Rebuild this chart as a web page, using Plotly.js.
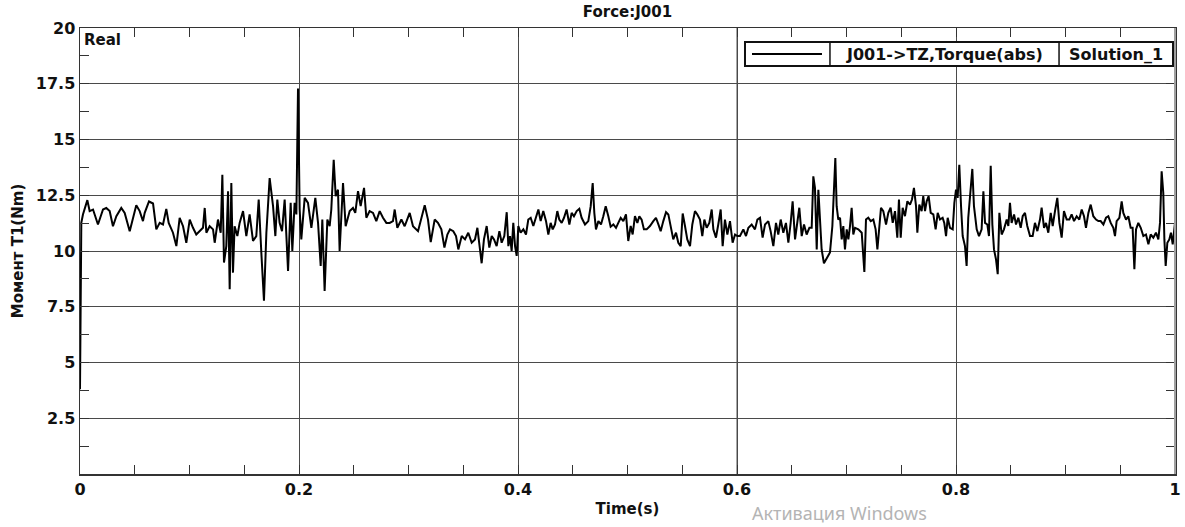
<!DOCTYPE html>
<html>
<head>
<meta charset="utf-8">
<script src="https://cdn.plot.ly/plotly-3.0.1.min.js"></script>
<style>
  html, body { margin: 0; padding: 0; background: #ffffff; }
  #chart { width: 1185px; height: 527px; }
</style>
</head>
<body>
<div id="chart"></div>
<script>
// ---- data ----
const chartTitle = "Force:J001";
const xTitle = "Time(s)";
const yTitle = "Момент T1(Nm)";
const seriesName = "J001->TZ,Torque(abs)";
const solutionName = "Solution_1";
const cornerLabel = "Real";
const watermark = "Активация Windows";

const xTickVals = [0, 0.2, 0.4, 0.6, 0.8, 1];
const xTickText = ["0", "0.2", "0.4", "0.6", "0.8", "1"];
const yTickVals = [2.5, 5, 7.5, 10, 12.5, 15, 17.5, 20];
const yTickText = ["2.5", "5", "7.5", "10", "12.5", "15", "17.5", "20"];

const time = [
  0, 0.0004, 0.0012, 0.0027, 0.0067, 0.0088, 0.0119, 0.0164, 0.0210, 0.0240,
  0.0271, 0.0301, 0.0332, 0.0377, 0.0408, 0.0454, 0.0514, 0.0545, 0.0575, 0.0591,
  0.0630, 0.0667, 0.0697, 0.0728, 0.0758, 0.0788, 0.0810, 0.0849, 0.0880, 0.0910,
  0.0941, 0.0971, 0.1002, 0.1032, 0.1062, 0.1123, 0.1139, 0.1154, 0.1184, 0.1215,
  0.1230, 0.1260, 0.1285, 0.1300, 0.1315, 0.1336, 0.1352, 0.1367, 0.1382, 0.1397,
  0.1412, 0.1437, 0.1458, 0.1489, 0.1519, 0.1549, 0.1580, 0.1610, 0.1632, 0.1656,
  0.1680, 0.1702, 0.1732, 0.1763, 0.1784, 0.1802, 0.1823, 0.1845, 0.1869, 0.1900,
  0.1924, 0.1939, 0.1960, 0.1976, 0.1991, 0.2006, 0.2021, 0.2052, 0.2082, 0.2113,
  0.2149, 0.2174, 0.2198, 0.2213, 0.2234, 0.2259, 0.2280, 0.2295, 0.2317, 0.2335,
  0.2356, 0.2371, 0.2402, 0.2426, 0.2463, 0.2493, 0.2514, 0.2539, 0.2563, 0.2594,
  0.2615, 0.2645, 0.2676, 0.2706, 0.2737, 0.2767, 0.2798, 0.2828, 0.2858, 0.2874,
  0.2898, 0.2935, 0.2965, 0.3011, 0.3041, 0.3087, 0.3148, 0.3178, 0.3203, 0.3239,
  0.3269, 0.3300, 0.3328, 0.3355,
  0.3379, 0.3409, 0.3434, 0.3455, 0.3486, 0.3516, 0.3546, 0.3577, 0.3607, 0.3629,
  0.3647, 0.3668, 0.3689, 0.3714, 0.3738, 0.3760, 0.3781, 0.3805, 0.3830, 0.3851,
  0.3875, 0.3897, 0.3912, 0.3927, 0.3942, 0.3957, 0.3973, 0.3988, 0.4003, 0.4024,
  0.4049, 0.4073, 0.4094, 0.4116, 0.4140, 0.4161, 0.4186, 0.4207, 0.4231, 0.4256,
  0.4277, 0.4298, 0.4317, 0.4338, 0.4359, 0.4377, 0.4399, 0.4420, 0.4444, 0.4469,
  0.4490, 0.4511, 0.4536, 0.4560, 0.4581, 0.4612, 0.4642, 0.4664, 0.4682, 0.4697,
  0.4712, 0.4734, 0.4758, 0.4779, 0.4801, 0.4825, 0.4846, 0.4871, 0.4895, 0.4916,
  0.4938, 0.4962, 0.4986, 0.5007, 0.5029, 0.5047, 0.5068, 0.5090, 0.5108, 0.5129,
  0.5150, 0.5175, 0.5205, 0.5236, 0.5260, 0.5282, 0.5303, 0.5327, 0.5352, 0.5373,
  0.5394, 0.5418, 0.5443, 0.5464, 0.5486, 0.5504, 0.5525, 0.5546, 0.5571, 0.5592,
  0.5616, 0.5638, 0.5662, 0.5683, 0.5702, 0.5723, 0.5747, 0.5769, 0.5784, 0.5808,
  0.5829, 0.5851, 0.5869, 0.5890, 0.5912, 0.5936, 0.5960, 0.5982, 0.6003, 0.6027,
  0.6058, 0.6082, 0.6104, 0.6134, 0.6164, 0.6186, 0.6210, 0.6234, 0.6256, 0.6286,
  0.6307, 0.6332, 0.6356, 0.6377, 0.6399, 0.6423, 0.6447, 0.6469, 0.6490, 0.6508,
  0.6530, 0.6551, 0.6569, 0.6591, 0.6612, 0.6636, 0.6661,
  0.6682, 0.6697, 0.6712, 0.6728, 0.6743, 0.6758, 0.6773, 0.6794, 0.6819, 0.6849,
  0.6871, 0.6886, 0.6898, 0.6910, 0.6925, 0.6941, 0.6956, 0.6971, 0.6986, 0.7002,
  0.7017, 0.7032, 0.7047, 0.7062, 0.7078, 0.7108, 0.7139, 0.7163, 0.7178, 0.7199,
  0.7221, 0.7245, 0.7266, 0.7282, 0.7300, 0.7315, 0.7336, 0.7361, 0.7382, 0.7403,
  0.7422, 0.7443, 0.7464, 0.7479, 0.7495, 0.7513, 0.7534, 0.7556, 0.7580, 0.7598,
  0.7616, 0.7635, 0.7647, 0.7665, 0.7686, 0.7701, 0.7717, 0.7732, 0.7750, 0.7769,
  0.7793, 0.7814, 0.7833, 0.7854, 0.7878, 0.7893, 0.7909, 0.7924, 0.7945, 0.7970,
  0.7985, 0.8000, 0.8015, 0.8030, 0.8046, 0.8061, 0.8082, 0.8097, 0.8112, 0.8134,
  0.8149, 0.8164, 0.8189, 0.8210, 0.8234, 0.8250, 0.8265, 0.8286, 0.8301, 0.8317,
  0.8332, 0.8347, 0.8365, 0.8381, 0.8396, 0.8417, 0.8438, 0.8463, 0.8478, 0.8493,
  0.8508, 0.8530, 0.8548, 0.8569, 0.8591, 0.8609, 0.8630, 0.8651, 0.8676, 0.8700,
  0.8721, 0.8743, 0.8767, 0.8782, 0.8804, 0.8822, 0.8843, 0.8865, 0.8883, 0.8904,
  0.8925, 0.8944, 0.8965, 0.8986, 0.9011, 0.9035, 0.9056, 0.9078, 0.9102, 0.9126,
  0.9148, 0.9169, 0.9187, 0.9209, 0.9230, 0.9254, 0.9279, 0.9300, 0.9321, 0.9346,
  0.9370, 0.9391, 0.9413, 0.9437, 0.9452, 0.9467, 0.9492, 0.9513, 0.9528, 0.9553,
  0.9574, 0.9595, 0.9613, 0.9629, 0.9644, 0.9665, 0.9687, 0.9711, 0.9735, 0.9757,
  0.9778, 0.9802, 0.9826, 0.9848, 0.9863, 0.9878, 0.9893, 0.9903, 0.9915, 0.9930,
  0.9948, 0.9963, 0.9979, 1.0
];

const torque = [
  3.8, 8.0, 11.27, 11.64, 12.28, 11.79, 11.86, 11.19, 11.86, 11.93,
  11.79, 11.11, 11.56, 11.93, 11.71, 10.89, 12.05, 11.79, 11.34, 11.71,
  12.22, 12.13, 10.97, 11.26, 11.19, 11.89, 11.26, 10.82, 10.22, 11.49,
  11.11, 10.37, 11.41, 11.04, 10.74, 11.04, 11.93, 10.82, 11.11, 10.97,
  10.37, 11.41, 10.82, 13.42, 9.48, 10.22, 12.68, 8.29, 13.05, 9.03,
  11.11, 10.67, 11.26, 11.79, 10.67, 11.64, 10.45, 10.67, 12.31, 9.93,
  7.77, 10.82, 13.27, 12.01, 10.67, 12.31, 11.26, 10.89, 12.31, 9.11,
  12.16, 10.00, 12.16, 11.64, 17.29, 11.86, 10.52, 12.38, 12.16, 11.04,
  12.38, 11.26, 9.33, 11.41, 8.21, 11.41, 11.11, 11.86, 14.09, 12.46,
  12.75, 10.00, 13.05, 11.11, 11.79, 11.93, 11.71, 12.68, 12.01, 12.83,
  11.49, 11.79, 11.71, 11.34, 11.79, 11.49, 11.26, 11.26, 11.34, 11.86,
  11.04, 11.41, 11.11, 11.71, 11.11, 10.89, 12.05, 11.41, 10.40, 11.41,
  11.26, 10.97, 10.15, 10.74,
  10.97, 10.89, 10.67, 10.07, 10.67, 10.52, 10.82, 10.37, 10.52, 11.04,
  10.22, 9.45, 10.52, 11.12, 10.15, 10.67, 10.52, 10.22, 10.89, 10.37,
  10.67, 11.74, 10.22, 10.67, 10.00, 11.26, 10.22, 9.78, 11.12, 10.82,
  10.97, 10.74, 11.41, 11.49, 11.12, 11.49, 11.86, 11.34, 11.79, 11.34,
  10.74, 11.26, 10.97, 11.19, 11.79, 11.41, 11.26, 11.49, 11.86, 11.19,
  11.71, 11.56, 11.79, 11.89, 11.49, 11.19, 11.34, 12.01, 13.05, 11.71,
  10.97, 11.34, 11.19, 11.56, 12.01, 11.56, 11.09, 11.19, 11.04, 11.26,
  11.49, 11.34, 11.64, 10.45, 11.12, 10.74, 11.56, 11.26, 11.56, 11.41,
  10.97, 10.97, 11.12, 11.34, 11.49, 11.19, 10.89, 11.34, 11.74, 11.64,
  11.12, 10.52, 10.82, 10.37, 10.22, 11.68, 11.12, 10.52, 10.22, 11.19,
  11.79, 11.64, 11.41, 10.67, 11.41, 11.04, 11.26, 11.86, 10.97, 10.60,
  11.19, 11.86, 10.22, 11.41, 10.74, 11.34, 10.37, 10.74, 10.67, 10.67,
  10.97, 10.67, 11.04, 11.19, 10.97, 11.41, 11.49, 10.60, 11.19, 11.34,
  10.89, 10.22, 11.26, 10.74, 11.41, 10.82, 11.26, 10.37, 11.26, 12.23,
  10.52, 11.41, 11.94, 10.67, 11.19, 10.74, 11.04,
  11.04, 13.35, 12.83, 10.07, 12.75, 11.26, 10.07, 9.45, 9.70, 9.93,
  11.12, 12.75, 14.17, 12.01, 11.41, 11.49, 10.52, 11.12, 10.07, 10.97,
  10.52, 11.12, 11.94, 10.74, 11.04, 10.97, 10.82, 9.06, 11.41, 11.49,
  11.34, 11.41, 10.97, 10.07, 11.34, 11.94, 11.79, 11.19, 11.71, 11.94,
  11.26, 11.79, 10.60, 12.31, 10.60, 11.94, 11.56, 12.23, 12.08, 12.31,
  12.83, 12.01, 10.82, 12.08, 11.79, 12.46, 11.79, 12.23, 12.46, 11.71,
  11.64, 10.97, 11.71, 11.41, 11.49, 11.26, 10.67, 11.49, 11.04, 10.97,
  12.16, 12.75, 12.38, 13.87, 12.01, 10.67, 10.22, 9.33, 11.49, 12.90,
  13.68, 12.01, 10.97, 10.67, 10.97, 12.68, 11.26, 11.19, 10.67, 13.82,
  11.19, 10.07, 9.63, 8.96, 11.71, 10.74, 10.97, 11.41, 11.12, 12.16,
  11.26, 11.64, 11.19, 11.49, 11.04, 11.56, 11.71, 11.12, 10.67, 10.67,
  11.26, 10.89, 11.41, 11.94, 11.04, 11.26, 10.82, 11.71, 11.12, 11.79,
  12.38, 11.26, 10.60, 11.79, 11.41, 11.41, 11.64, 11.34, 11.56, 11.41,
  11.86, 11.56, 11.04, 11.71, 12.08, 11.56, 11.41, 11.34, 11.34, 11.19,
  11.49, 11.56, 11.26, 11.04, 10.67, 11.34, 11.49, 12.23, 11.71, 11.41,
  11.56, 11.04, 11.04, 9.18, 10.97, 11.26, 11.04, 10.67, 10.74, 10.30,
  10.74, 10.60, 10.82, 10.52, 11.26, 13.57, 12.60, 10.52, 9.33, 10.37,
  10.52, 10.82, 10.30, 11.26
];

// ---- styling ----
const FONT = "DejaVu Sans, Liberation Sans, Arial, sans-serif";
const INK = "#111111";
const GRID = "#4a4a4a";

const trace = {
  x: time,
  y: torque,
  type: "scatter",
  mode: "lines",
  name: seriesName,
  line: { color: "#000000", width: 2 },
  showlegend: false,
  hoverinfo: "x+y"
};

// legend box geometry (paper coords)
const lgX0 = 0.6073, lgX1 = 0.9982, lgY0 = 0.9148, lgY1 = 0.9686;
const lgSep1 = 0.6849, lgSep2 = 0.8941;
const lgMid = (lgY0 + lgY1) / 2;

const layout = {
  width: 1185,
  height: 527,
  margin: { l: 80, r: 10, t: 28, b: 53, pad: 0 },
  paper_bgcolor: "#ffffff",
  plot_bgcolor: "#ffffff",
  showlegend: false,
  title: {
    text: "<b>" + chartTitle + "</b>",
    font: { family: FONT, size: 15, color: INK },
    xref: "paper", x: 0.5, xanchor: "center",
    yref: "container", y: 0.977, yanchor: "middle"
  },
  xaxis: {
    range: [0, 1],
    tickmode: "array",
    tickvals: xTickVals,
    ticktext: xTickText,
    ticks: "inside",
    ticklen: 9,
    tickcolor: "#333",
    showgrid: true,
    gridcolor: GRID,
    gridwidth: 1,
    zeroline: false,
    showline: true,
    linecolor: "#333",
    linewidth: 1.5,
    mirror: "ticks",
    tickfont: { family: FONT, size: 16, color: INK, weight: "bold" },
    minor: { tickmode: "linear", tick0: 0, dtick: 0.05, ticks: "inside", ticklen: 9, tickcolor: "#333", showgrid: false },
    title: {
      text: "<b>" + xTitle + "</b>",
      font: { family: FONT, size: 15, color: INK },
      standoff: 6
    }
  },
  yaxis: {
    range: [0, 20],
    tickmode: "array",
    tickvals: yTickVals,
    ticktext: yTickText,
    ticks: "inside",
    ticklen: 9,
    tickcolor: "#333",
    showgrid: true,
    gridcolor: GRID,
    gridwidth: 1,
    zeroline: false,
    showline: true,
    linecolor: "#333",
    linewidth: 1.5,
    mirror: "ticks",
    tickfont: { family: FONT, size: 16, color: INK, weight: "bold" },
    minor: { tickmode: "linear", tick0: 0, dtick: 1.25, ticks: "inside", ticklen: 9, tickcolor: "#333", showgrid: false },
    title: {
      text: "<b>" + yTitle + "</b>",
      font: { family: FONT, size: 15, color: INK },
      standoff: 8
    }
  },
  shapes: [
    // lighter grid line at 0.6 and lighter right frame
    { type: "line", xref: "x", yref: "paper", x0: 0.6, x1: 0.6, y0: 0, y1: 1,
      line: { color: "#a8a8a8", width: 2 }, layer: "below" },
    { type: "line", xref: "paper", yref: "paper", x0: 1, x1: 1, y0: 0, y1: 1,
      line: { color: "#a0a0a0", width: 2 }, layer: "above" },
    // legend box
    { type: "rect", xref: "paper", yref: "paper", x0: lgX0, x1: lgX1, y0: lgY0, y1: lgY1,
      line: { color: "#111", width: 2 }, fillcolor: "#ffffff", layer: "above" },
    { type: "line", xref: "paper", yref: "paper", x0: lgSep1, x1: lgSep1, y0: lgY0, y1: lgY1,
      line: { color: "#111", width: 1.5 }, layer: "above" },
    { type: "line", xref: "paper", yref: "paper", x0: lgSep2, x1: lgSep2, y0: lgY0, y1: lgY1,
      line: { color: "#111", width: 1.5 }, layer: "above" },
    { type: "line", xref: "paper", yref: "paper", x0: 0.6137, x1: 0.6776, y0: lgMid, y1: lgMid,
      line: { color: "#000", width: 2 }, layer: "above" }
  ],
  annotations: [
    { text: "<b>" + cornerLabel + "</b>", xref: "paper", yref: "paper",
      x: 0.002, y: 0.997, xanchor: "left", yanchor: "top", showarrow: false,
      font: { family: FONT, size: 15, color: INK } },
    { text: "<b>" + seriesName + "</b>", xref: "paper", yref: "paper",
      x: (lgSep1 + lgSep2) / 2, y: lgMid, xanchor: "center", yanchor: "middle", showarrow: false,
      font: { family: FONT, size: 16, color: INK } },
    { text: "<b>" + solutionName + "</b>", xref: "paper", yref: "paper",
      x: (lgSep2 + lgX1) / 2, y: lgMid, xanchor: "center", yanchor: "middle", showarrow: false,
      font: { family: FONT, size: 16, color: INK } },
    { text: watermark, xref: "paper", yref: "paper",
      x: 0.612, y: -0.118, xanchor: "left", yanchor: "bottom", showarrow: false,
      font: { family: "Noto Sans, Open Sans, sans-serif", size: 18, color: "#b4b4b4" } }
  ]
};

Plotly.newPlot("chart", [trace], layout, { displayModeBar: false, staticPlot: true });
</script>
</body>
</html>
